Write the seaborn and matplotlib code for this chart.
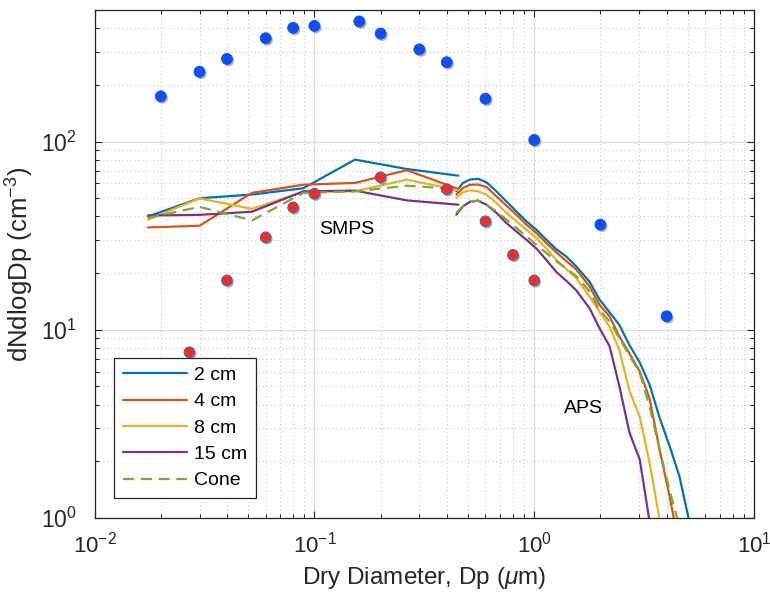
import numpy as np
import pandas as pd
import matplotlib
matplotlib.use("Agg")
import matplotlib.pyplot as plt
import matplotlib.patheffects as pe
import matplotlib.transforms as mtransforms
from matplotlib.ticker import LogLocator, NullFormatter
import seaborn as sns

# ---- data -------------------------------------------------------------
series_names = ["2 cm", "4 cm", "8 cm", "15 cm", "Cone"]
series_colors = ["#0072BD", "#D95319", "#EDB120", "#7E2F8E", "#77AC30"]

# SMPS size distributions (dry diameter, um)
smps_d = [0.0175, 0.030, 0.052, 0.089, 0.153, 0.263, 0.452]
smps_2cm = [40.0, 50.0, 52.3, 56.5, 80.2, 71.5, 65.9]
smps_4cm = [35.0, 35.7, 53.4, 59.0, 60.3, 70.5, 56.0]
smps_8cm = [38.5, 49.9, 43.9, 54.0, 54.4, 62.8, 55.1]
smps_15cm = [40.5, 40.8, 42.4, 54.4, 54.9, 48.7, 46.2]
smps_cone = [39.3, 45.0, 38.1, 53.4, 54.4, 58.3, 55.9]

# APS size distributions (dry diameter, um)
aps_d = [0.442, 0.474, 0.509, 0.555, 0.606, 0.673, 0.747, 0.829, 0.921,
         1.023, 1.135, 1.26, 1.40, 1.553, 1.786, 1.98, 2.20, 2.44, 2.71,
         3.02, 3.35, 3.72, 4.13, 4.58, 5.08]
aps_2cm = [54.4, 60.3, 62.8, 63.4, 60.8, 54.4, 48.1, 42.6, 37.7,
           34.0, 30.1, 26.8, 24.5, 21.7, 18.0, 14.5, 12.4, 10.6, 8.3,
           6.7, 5.1, 3.4, 2.41, 1.66, 0.95]
aps_4cm = [52.3, 56.7, 58.9, 59.1, 57.4, 51.2, 45.7, 40.9, 36.2,
           32.7, 28.9, 25.8, 23.2, 20.9, 17.0, 13.6, 11.8, 9.2, 7.5,
           6.0, 4.3, 2.3, 1.3, 0.7, np.nan]
aps_8cm = [50.2, 53.8, 55.1, 54.4, 52.3, 47.2, 41.8, 37.7, 34.0,
           30.7, 27.0, 23.5, 21.0, 18.8, 15.0, 12.5, 10.4, 7.8, 4.75,
           3.46, 1.95, 0.98, np.nan, np.nan, np.nan]
aps_15cm = [40.9, 45.3, 47.8, 48.5, 46.2, 41.8, 36.9, 33.3, 30.1,
            27.0, 23.5, 20.3, 18.2, 16.2, 13.0, 10.2, 8.2, 5.0, 2.85,
            2.04, 0.95, np.nan, np.nan, np.nan, np.nan]
aps_cone = [41.8, 45.5, 48.0, 48.7, 46.2, 42.6, 38.5, 34.8, 31.4,
            28.3, 25.6, 23.1, 21.2, 19.3, 16.0, 12.8, 11.1, 9.0, 7.3,
            5.9, 3.9, 2.3, 1.4, 0.9, np.nan]

# Reference distributions shown as markers
ref_blue_d = [0.02, 0.03, 0.04, 0.06, 0.08, 0.1, 0.16, 0.2, 0.3, 0.4,
              0.6, 1.0, 2.0, 4.0]
ref_blue_n = [174, 235, 275, 354, 402, 412, 435, 375, 309, 264,
              169, 102, 36.2, 11.8]
ref_red_d = [0.027, 0.04, 0.06, 0.08, 0.1, 0.2, 0.4, 0.6, 0.8, 1.0]
ref_red_n = [7.6, 18.3, 31.0, 44.7, 52.9, 64.6, 55.8, 37.7, 25.0, 18.3]

smps_vals = [smps_2cm, smps_4cm, smps_8cm, smps_15cm, smps_cone]
aps_vals = [aps_2cm, aps_4cm, aps_8cm, aps_15cm, aps_cone]

# ---- style ------------------------------------------------------------
sns.set_theme(style="white")
plt.rcParams["font.family"] = ["Liberation Sans", "DejaVu Sans"]
plt.rcParams["mathtext.fontset"] = "custom"
plt.rcParams["mathtext.rm"] = "Liberation Sans"
plt.rcParams["mathtext.it"] = "Liberation Sans:italic"
plt.rcParams["mathtext.default"] = "regular"

ink = "#262626"
fig = plt.figure(figsize=(7.7, 5.97), dpi=100)
ax = fig.add_axes([0.1229, 0.1323, 0.8564, 0.8509])
ax.set_xscale("log")
ax.set_yscale("log")

handles = []
for name, color, sv, av in zip(series_names, series_colors, smps_vals, aps_vals):
    dash = (5, 3) if name == "Cone" else None
    lw = 1.6
    sdf = pd.DataFrame({"d": smps_d, "n": sv})
    adf = pd.DataFrame({"d": aps_d, "n": av}).dropna()
    sns.lineplot(data=sdf, x="d", y="n", ax=ax, color=color, lw=lw,
                 legend=False, zorder=3)
    ln = ax.get_lines()[-1]
    if dash:
        ln.set_dashes(dash)
    handles.append(ln)
    sns.lineplot(data=adf, x="d", y="n", ax=ax, color=color, lw=lw,
                 legend=False, zorder=3)
    if dash:
        ax.get_lines()[-1].set_dashes(dash)

shadow = [pe.SimplePatchShadow(offset=(1.2, -1.4), alpha=0.35,
                               shadow_rgbFace="#202020"), pe.Normal()]
sns.scatterplot(x=ref_blue_d, y=ref_blue_n, ax=ax, s=62,
                color="#0A50F5", edgecolor="#0A50F5",
                linewidth=0.6, zorder=4, legend=False)
ax.collections[-1].set_path_effects(shadow)
sns.scatterplot(x=ref_red_d, y=ref_red_n, ax=ax, s=58, color="#FF2A10",
                edgecolor="#3A66D8", linewidth=0.8, zorder=5, legend=False)
ax.collections[-1].set_path_effects(shadow)

ax.text(0.14, 34, "SMPS", fontsize=14, ha="center", va="center", color="black")
ax.text(1.68, 3.83, "APS", fontsize=14, ha="center", va="center", color="black")

# ---- axes -------------------------------------------------------------
ax.set_xlim(0.01, 10)
ax.set_ylim(1, 500)
ax.xaxis.set_major_locator(LogLocator(base=10, numticks=10))
ax.yaxis.set_major_locator(LogLocator(base=10, numticks=10))
ax.xaxis.set_minor_locator(LogLocator(base=10, subs=np.arange(2, 10), numticks=20))
ax.yaxis.set_minor_locator(LogLocator(base=10, subs=np.arange(2, 10), numticks=20))
ax.xaxis.set_minor_formatter(NullFormatter())
ax.yaxis.set_minor_formatter(NullFormatter())

ax.grid(True, which="major", color="#dcdcdc", lw=0.9, ls="-", zorder=0)
ax.grid(True, which="minor", color="#c8c8c8", lw=0.8, ls=(0, (1, 2.5)), zorder=0)
ax.set_axisbelow(True)

for sp in ax.spines.values():
    sp.set_visible(True)
    sp.set_color(ink)
    sp.set_linewidth(0.9)

ax.tick_params(which="both", direction="in", top=True, right=True,
               bottom=True, left=True, color=ink, width=0.8)
ax.tick_params(which="major", length=5)
ax.tick_params(which="minor", length=3)
ax.tick_params(axis="x", which="major", labelsize=16, pad=10, labelcolor=ink)
ax.tick_params(axis="y", which="major", labelsize=16.5, pad=13, labelcolor=ink)

ax.set_xlabel(r"Dry Diameter, Dp ($\mathit{\mu}$m)", fontsize=17.5, color=ink, labelpad=5)
ax.set_ylabel(r"dNdlogDp (cm$^{-3}$)", fontsize=18.5, color=ink, labelpad=3)

# nudge the right-most x tick label so it stays inside the canvas
fig.canvas.draw()
xlabels = [t for t in ax.get_xticklabels() if t.get_text()]
if xlabels:
    last = max(xlabels, key=lambda t: t.get_position()[0])
    last.set_transform(last.get_transform() +
                       mtransforms.ScaledTranslation(-4 / 72, 0, fig.dpi_scale_trans))

leg = ax.legend(handles=handles, labels=series_names, loc="lower left",
                bbox_to_anchor=(0.030, 0.039), borderaxespad=0,
                fontsize=14, frameon=True, fancybox=False, framealpha=1,
                edgecolor=ink, handlelength=3.3, handletextpad=0.35,
                labelspacing=0.45, borderpad=0.45)
leg.get_frame().set_linewidth(0.9)
for t in leg.get_texts():
    t.set_color("black")

fig.savefig("out.png", dpi=100)
